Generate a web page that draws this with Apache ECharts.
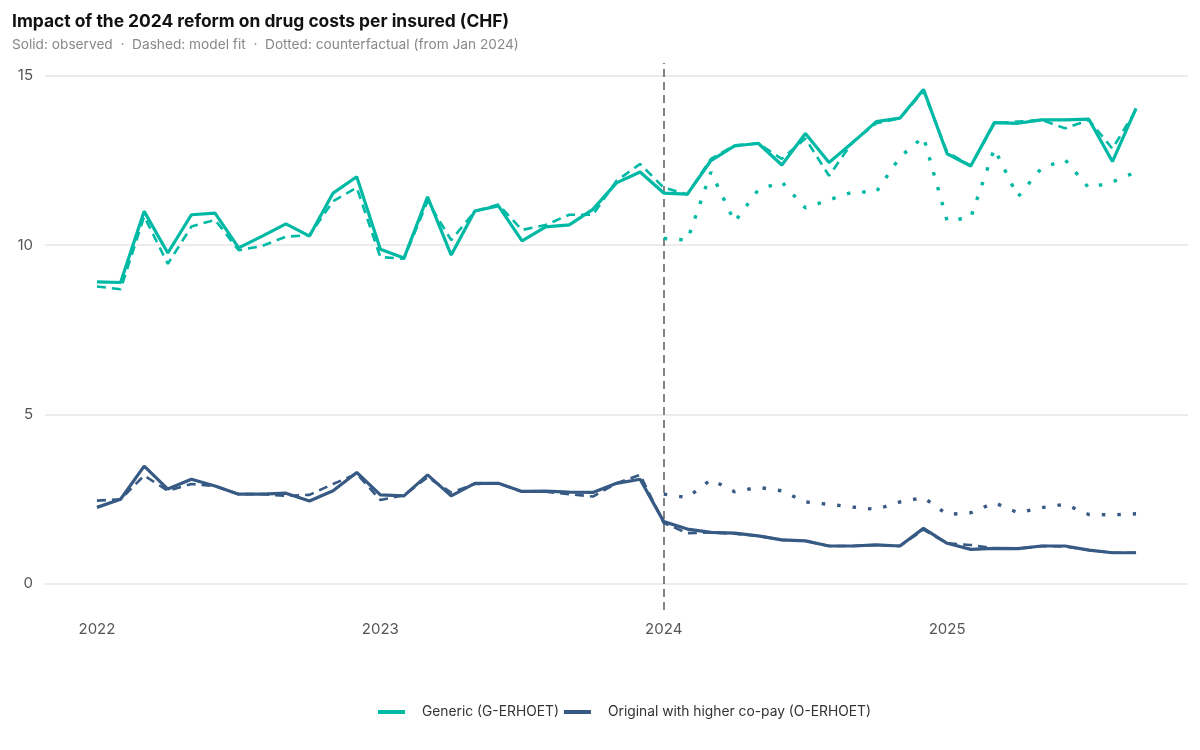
<!DOCTYPE html>
<html>
<head>
<meta charset="utf-8">
<script src="https://cdn.jsdelivr.net/npm/echarts@6/dist/echarts.min.js"></script>
<style>
html,body{margin:0;padding:0;background:#fff;}
#chart{width:1200px;height:750px;}
</style>
</head>
<body>
<div id="chart"></div>
<script>
// Months: index 0 = Jan 2022 ... index 44 = Sep 2025
const yearLabels = ['2022', '2023', '2024', '2025'];
const yearTickMonths = [0, 12, 24, 36];
const yTicks = [0, 5, 10, 15];
const reformMonth = 24;

const genericObserved = [8.92, 8.9, 11.0, 9.77, 10.9, 10.95, 9.92, 10.27, 10.63, 10.27, 11.54, 12.02,
  9.88, 9.62, 11.43, 9.71, 11.01, 11.16, 10.13, 10.54, 10.6, 11.06, 11.84, 12.16,
  11.54, 11.51, 12.5, 12.93, 13.01, 12.37, 13.3, 12.44, 13.03, 13.65, 13.75, 14.6,
  12.7, 12.34, 13.62, 13.6, 13.7, 13.7, 13.72, 12.47, 14.04];
const genericFit = [8.78, 8.7, 10.85, 9.45, 10.55, 10.75, 9.85, 9.98, 10.25, 10.3, 11.3, 11.7,
  9.65, 9.6, 11.3, 10.15, 11.0, 11.2, 10.45, 10.6, 10.9, 10.9, 11.9, 12.4,
  11.7, 11.5, 12.55, 12.95, 13.0, 12.55, 13.15, 12.05, 13.05, 13.6, 13.75, 14.55,
  12.75, 12.35, 13.6, 13.65, 13.7, 13.45, 13.7, 12.85, 14.0];
const genericCounterfactual = [10.2, 10.15, 12.16, 10.69, 11.63, 11.87, 11.1, 11.34, 11.57, 11.57, 12.6, 13.2,
  10.72, 10.82, 12.85, 11.43, 12.28, 12.52, 11.69, 11.87, 12.16];

const originalObserved = [2.26, 2.5, 3.48, 2.8, 3.09, 2.89, 2.65, 2.65, 2.68, 2.45, 2.75, 3.29,
  2.63, 2.6, 3.22, 2.6, 2.97, 2.97, 2.73, 2.74, 2.71, 2.7, 2.97, 3.09,
  1.84, 1.62, 1.52, 1.5, 1.42, 1.3, 1.27, 1.12, 1.12, 1.15, 1.12, 1.64,
  1.2, 1.02, 1.05, 1.04, 1.12, 1.12, 1.0, 0.92, 0.92];
const originalFit = [2.46, 2.5, 3.2, 2.75, 2.95, 2.89, 2.65, 2.65, 2.6, 2.63, 2.95, 3.25,
  2.48, 2.62, 3.15, 2.7, 2.95, 2.97, 2.72, 2.72, 2.65, 2.58, 2.97, 3.22,
  1.8, 1.5, 1.52, 1.48, 1.42, 1.3, 1.27, 1.12, 1.12, 1.15, 1.12, 1.6,
  1.2, 1.15, 1.05, 1.04, 1.12, 1.1, 1.0, 0.92, 0.92];
const originalCounterfactual = [2.65, 2.55, 3.08, 2.72, 2.85, 2.75, 2.42, 2.35, 2.27, 2.2, 2.42, 2.55,
  2.05, 2.1, 2.4, 2.1, 2.25, 2.35, 2.05, 2.04, 2.07];

const GEN = 'Generic (G-ERHOET)';
const ORI = 'Original with higher co-pay (O-ERHOET)';
const cGen = '#00B9A5';
const cOri = '#375A84';
const FONT = 'Inter';

function pairs(arr, start) { return arr.map((v, i) => [i + start, v]); }

function mk(name, color, arr, start, kind) {
  const ls = { color: color, width: kind === 'solid' ? 3.2 : 2.6 };
  if (kind === 'dashed') { ls.type = [9, 6]; }
  if (kind === 'dotted') { ls.type = [3.5, 12]; ls.width = 3.4; }
  return {
    name: name, type: 'line', data: pairs(arr, start),
    showSymbol: false, symbol: 'none', lineStyle: ls, itemStyle: { color: color },
    z: kind === 'solid' ? 4 : 3, animation: false, silent: true
  };
}

const series = [
  mk(GEN, cGen, genericCounterfactual, reformMonth, 'dotted'),
  mk(ORI, cOri, originalCounterfactual, reformMonth, 'dotted'),
  mk(GEN, cGen, genericFit, 0, 'dashed'),
  mk(ORI, cOri, originalFit, 0, 'dashed'),
  mk(GEN, cGen, genericObserved, 0, 'solid'),
  mk(ORI, cOri, originalObserved, 0, 'solid')
];
series[0].markLine = {
  silent: true, symbol: 'none', z: 1, animation: false,
  label: { show: false },
  data: yTicks.map(v => ({ yAxis: v, lineStyle: { color: '#e6e6e6', width: 1.5, type: 'solid' } }))
    .concat([{ xAxis: reformMonth, lineStyle: { color: '#777777', width: 1.8, type: [8, 5] } }])
};

const chart = echarts.init(document.getElementById('chart'), null, { renderer: 'canvas' });
chart.setOption({
  backgroundColor: '#ffffff',
  animation: false,
  textStyle: { fontFamily: FONT },
  title: {
    text: 'Impact of the 2024 reform on drug costs per insured (CHF)',
    subtext: 'Solid: observed  ·  Dashed: model fit  ·  Dotted: counterfactual (from Jan 2024)',
    left: 7, top: 8, itemGap: 8,
    textStyle: { fontFamily: FONT, fontSize: 17.4, fontWeight: 'bold', color: '#111111' },
    subtextStyle: { fontFamily: FONT, fontSize: 13.7, color: '#888888' }
  },
  legend: {
    data: [GEN, ORI],
    left: 373, top: 700,
    icon: 'rect', itemWidth: 27, itemHeight: 4, itemGap: 5,
    textStyle: { fontFamily: FONT, fontSize: 13.8, color: '#333333', padding: [0, 0, 0, 12] }
  },
  grid: { left: 45, right: 12, top: 63, bottom: 140, containLabel: false },
  xAxis: {
    type: 'value', min: -2.2, max: 46.2,
    axisLine: { show: false }, axisTick: { show: false }, splitLine: { show: false },
    axisLabel: {
      customValues: yearTickMonths,
      formatter: v => yearLabels[yearTickMonths.indexOf(v)] || '',
      color: '#555555', fontSize: 15, margin: 12, fontFamily: FONT
    }
  },
  yAxis: {
    type: 'value', min: -0.77, max: 15.38,
    axisLine: { show: false }, axisTick: { show: false }, splitLine: { show: false },
    axisLabel: {
      customValues: yTicks,
      formatter: v => String(v),
      color: '#555555', fontSize: 15, margin: 12, fontFamily: FONT
    }
  },
  series: series
});
</script>
</body>
</html>
